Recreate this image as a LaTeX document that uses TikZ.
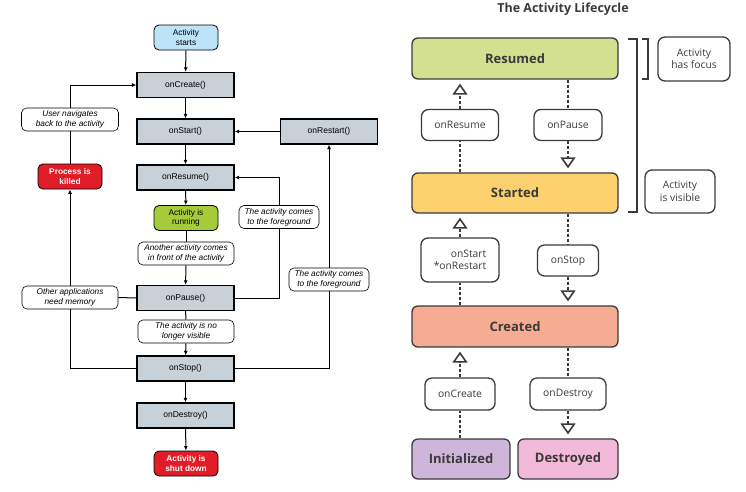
\documentclass[tikz,border=0pt]{standalone}
\usepackage{fontspec}
\setmainfont{Liberation Sans}
\newfontfamily\plexfont{Open Sans}
\usetikzlibrary{arrows.meta}

\definecolor{methodgrey}{HTML}{C8D1D8}
\definecolor{startblue}{HTML}{BDE3F8}
\definecolor{killred}{HTML}{E11D27}
\definecolor{rungreen}{HTML}{A5CB3A}
\definecolor{resumedgreen}{HTML}{D2E08F}
\definecolor{startedyellow}{HTML}{FDD26E}
\definecolor{createdsalmon}{HTML}{F6AC92}
\definecolor{initpurple}{HTML}{CDB6DA}
\definecolor{destroypink}{HTML}{F2BAD8}
\definecolor{inkgrey}{HTML}{3A3A3A}

\begin{document}
\begin{tikzpicture}[x=1pt, y=-1pt,
  method/.style={draw, line width=1.3pt, fill=methodgrey, minimum width=97pt, minimum height=25pt, inner sep=0pt, font=\fontsize{8.5}{10}\selectfont},
  event/.style={draw, rounded corners=5pt, line width=0.8pt, minimum width=64pt, minimum height=25pt, inner sep=0pt, align=center, font=\fontsize{8.3}{9.5}\selectfont\bfseries},
  note/.style={draw, rounded corners=5pt, line width=0.6pt, minimum height=23pt, inner sep=0pt, align=center, fill=white, font=\fontsize{8.3}{10}\selectfont\itshape},
  link/.style={line width=1pt},
  flow/.style={link, -{Latex[length=4.5pt,width=4pt]}},
  state/.style={draw=inkgrey, rounded corners=6pt, line width=1.3pt, minimum height=41pt, inner sep=0pt, text=inkgrey, font=\plexfont\fontsize{13}{15}\selectfont\bfseries},
  callback/.style={draw=inkgrey, rounded corners=7pt, line width=1.3pt, minimum height=31pt, inner sep=0pt, align=center, text=inkgrey, font=\plexfont\fontsize{10.3}{12.5}\selectfont},
  dashline/.style={draw=inkgrey, line width=1.8pt, dash pattern=on 3pt off 2pt},
  hollow/.tip={Triangle[open, length=11pt, width=15pt, line width=1.6pt]},
  opentip/.style={dashline, -hollow, shorten >=4pt},
  bracket/.style={draw=inkgrey, line width=1.4pt}]
  \useasboundingbox (0,0) rectangle (746,491);

  % Android activity flow (left)
  \node[event, fill=startblue] (ActStart) at (186,37.5) {\mdseries Activity\\\mdseries starts};
  \node[method] (Create) at (185.5,85) {onCreate()};
  \node[method] (Start) at (185.5,131.5) {onStart()};
  \node[method] (Restart) at (329,131.5) {onRestart()};
  \node[method] (Resume) at (185.5,177.5) {onResume()};
  \node[event, fill=rungreen] (Running) at (186,218) {\mdseries Activity is\\\mdseries running};
  \node[method] (Pause) at (185.5,298) {onPause()};
  \node[method] (Stop) at (185.5,368.5) {onStop()};
  \node[method] (Destroy) at (185.5,415.5) {onDestroy()};
  \node[event, fill=killred, text=white] (ShutDown) at (186,463.5) {Activity is\\shut down};
  \node[event, fill=killred, text=white] (Killed) at (70,176.5) {Process is\\killed};

  \node[note, minimum width=97pt] (Navigate) at (70,119.5) {User navigates\\back to the activity};
  \node[note, minimum width=96pt] (Memory) at (70,297.5) {Other applications\\need memory};
  \node[note, minimum width=96pt] (Another) at (186,253.5) {Another activity comes\\in front of the activity};
  \node[note, minimum width=96pt] (Visible) at (186,331.5) {The activity is no\\longer visible};
  \node[note, minimum width=80pt] (Fore1) at (279,217) {The activity comes\\to the foreground};
  \node[note, minimum width=80pt] (Fore2) at (329,279.5) {The activity comes\\to the foreground};

  \draw[flow] (ActStart) -- (Create);
  \draw[flow] (Create) -- (Start);
  \draw[flow] (Start) -- (Resume);
  \draw[flow] (Resume) -- (Running);
  \draw[link] (Running) -- (Another);
  \draw[flow] (Another) -- (Pause);
  \draw[link] (Pause) -- (Visible);
  \draw[flow] (Visible) -- (Stop);
  \draw[flow] (Stop) -- (Destroy);
  \draw[flow] (Destroy) -- (ShutDown);
  \draw[flow] (Restart) -- (Start);
  \draw[link] (Pause.east) -| (Fore1.south);
  \draw[flow] (Fore1.north) |- (Resume.east);
  \draw[link] (Stop.east) -| (Fore2.south);
  \draw[flow] (Fore2.north) -- (Restart.south);
  \draw[link] (Pause.west) -- (Memory.east);
  \draw[link] (Stop.west) -| (Memory.south);
  \draw[flow] (Memory.north) -- (Killed.south);
  \draw[link] (Killed.north) -- (Navigate.south);
  \draw[flow] (Navigate.north) |- (Create.west);

  % lifecycle states (right)
  \node[text=inkgrey, font=\plexfont\fontsize{12.5}{14}\selectfont\bfseries] (Title) at (563,9) {The Activity Lifecycle};
  \node[state, fill=resumedgreen, minimum width=206pt] (Resumed) at (515,58.5) {Resumed};
  \node[state, fill=startedyellow, minimum width=206pt, minimum height=40pt] (Started) at (515,193) {Started};
  \node[state, fill=createdsalmon, minimum width=206pt] (Created) at (515,326.5) {Created};
  \node[state, fill=initpurple, minimum width=98pt, minimum height=40pt] (Initialized) at (461,459) {Initialized};
  \node[state, fill=destroypink, minimum width=100pt, minimum height=40pt] (Destroyed) at (568,459) {Destroyed};

  \node[callback, minimum width=77pt] (onResume) at (460,125) {onResume};
  \node[callback, minimum width=68pt] (onPause) at (568,125) {onPause};
  \node[callback, minimum width=78pt, minimum height=44pt, align=right] (onStart) at (460,260) {onStart\\*onRestart};
  \node[callback, minimum width=61pt] (onStop) at (568,260.5) {onStop};
  \node[callback, minimum width=70pt, minimum height=32pt] (onCreate) at (460,394) {onCreate};
  \node[callback, minimum width=76pt, minimum height=32pt] (onDestroy) at (568,394) {onDestroy};

  \node[callback, minimum width=72pt, minimum height=44pt] (Focus) at (694,59) {Activity\\has focus};
  \node[callback, minimum width=70pt, minimum height=43pt] (IsVisible) at (680,191.5) {Activity\\is visible};

  \draw[dashline] (onResume.south |- Started.north) -- (onResume.south);
  \draw[opentip] (onResume.north) -- (onResume.north |- Resumed.south);
  \draw[dashline] (onPause.north |- Resumed.south) -- (onPause.north);
  \draw[opentip] (onPause.south) -- (onPause.south |- Started.north);
  \draw[dashline] (onStart.south |- Created.north) -- (onStart.south);
  \draw[opentip] (onStart.north) -- (onStart.north |- Started.south);
  \draw[dashline] (onStop.north |- Started.south) -- (onStop.north);
  \draw[opentip] (onStop.south) -- (onStop.south |- Created.north);
  \draw[dashline] (onCreate.south |- Initialized.north) -- (onCreate.south);
  \draw[opentip] (onCreate.north) -- (onCreate.north |- Created.south);
  \draw[dashline] (onDestroy.north |- Created.south) -- (onDestroy.north);
  \draw[opentip] (onDestroy.south) -- (onDestroy.south |- Destroyed.north);

  \draw[bracket] (628,39) -- (637,39) -- (637,212) -- (628,212);
  \draw[bracket] (642,39) -- (648,39) -- (648,79) -- (642,79);
\end{tikzpicture}
\end{document}
